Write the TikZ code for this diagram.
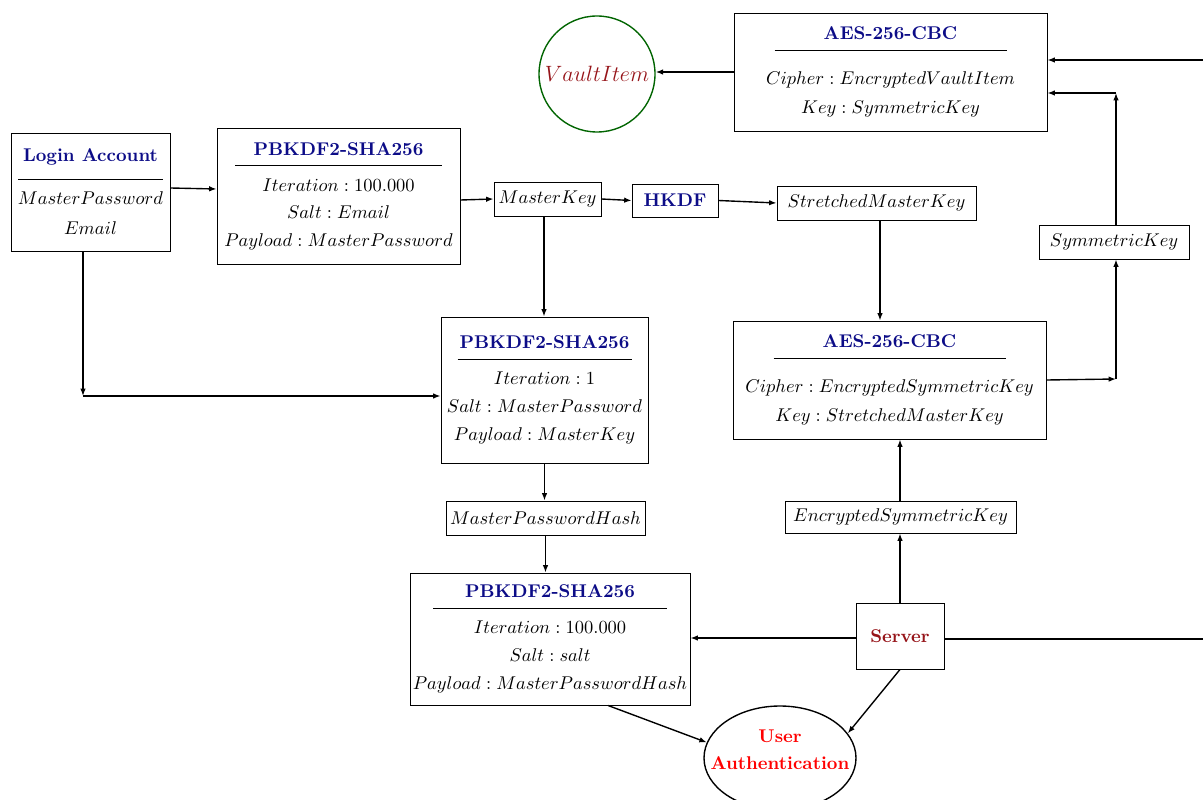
\documentclass[tikz,border=0pt]{standalone}
\usetikzlibrary{arrows.meta,shapes.geometric,calc}

\definecolor{navy}{RGB}{12,12,135}
\definecolor{darkred}{RGB}{150,20,25}
\definecolor{vaultgreen}{RGB}{0,100,0}

% one drawing unit of the chart
\newdimen\px \px=0.5417pt
% heading of a record box: bold title, a rule, then the fields
\newcommand\hdr[4]{\textcolor{navy}{\bfseries #1}\\[#3]\rule{#2}{0.5pt}\\[#4]}
\newcommand\lines[1]{\fontsize{10}{#1}\selectfont}

\tikzset{
  recbox/.style={draw, line width=0.5pt, inner sep=0pt, align=center},
  keybox/.style={draw, line width=0.5pt, inner sep=0pt},
  link/.style={line width=0.75pt, -{Latex[length=4pt,width=3pt]}},
  wire/.style={line width=0.75pt},
}

\begin{document}
\begin{tikzpicture}[x=\px, y=-\px]
\useasboundingbox (0,0) rectangle (1203,800);

% ---- record boxes
\node[recbox, minimum width=159*\px, minimum height=118*\px,
      font=\lines{30\px}] (login) at (90.5,192)
  {\hdr{Login Account}{144\px}{-12\px}{-5\px}$MasterPassword$\\$Email$};

\node[recbox, minimum width=243*\px, minimum height=136*\px,
      font=\lines{27.5\px}] (pb1) at (338.5,196)
  {\hdr{PBKDF2-SHA256}{207\px}{-16.5\px}{-2.5\px}$Iteration : 100.000$\\$Salt : Email$\\$Payload : MasterPassword$};

\node[recbox, minimum width=313*\px, minimum height=118*\px,
      font=\lines{29.5\px}] (aes1) at (890.5,72)
  {\hdr{AES-256-CBC}{232\px}{-17.5\px}{3.5\px}$Cipher : EncryptedVaultItem$\\$Key : SymmetricKey$};

\node[recbox, minimum width=313*\px, minimum height=118*\px,
      font=\lines{29.5\px}] (aes2) at (889.5,380)
  {\hdr{AES-256-CBC}{232\px}{-17.5\px}{3.5\px}$Cipher : EncryptedSymmetricKey$\\$Key : StretchedMasterKey$};

\node[recbox, minimum width=207*\px, minimum height=146*\px,
      font=\lines{28\px}] (pb2) at (544.5,390)
  {\hdr{PBKDF2-SHA256}{174\px}{-17\px}{-3\px}$Iteration : 1$\\$Salt : MasterPassword$\\$Payload : MasterKey$};

\node[recbox, minimum width=280*\px, minimum height=132*\px,
      font=\lines{28\px}] (pb3) at (550,639)
  {\hdr{PBKDF2-SHA256}{234\px}{-17\px}{-3\px}$Iteration : 100.000$\\$Salt : salt$\\$Payload : MasterPasswordHash$};

% ---- key boxes
\node[keybox, minimum width=107*\px, minimum height=34*\px] (mk) at (547.5,199) {$MasterKey$};
\node[keybox, minimum width=86*\px, minimum height=33*\px, text=navy, font=\bfseries] (hkdf) at (675,200.5) {HKDF};
\node[keybox, minimum width=199*\px, minimum height=34*\px] (smk) at (876.5,203) {$StretchedMasterKey$};
\node[keybox, minimum width=150*\px, minimum height=34*\px] (sk) at (1114,242) {$SymmetricKey$};
\node[keybox, minimum width=199*\px, minimum height=34*\px] (mph) at (545.5,518) {$MasterPasswordHash$};
\node[keybox, minimum width=231*\px, minimum height=32*\px] (esk) at (900.5,517) {$EncryptedSymmetricKey$};
\node[keybox, minimum width=88*\px, minimum height=66*\px, text=darkred, font=\bfseries] (server) at (900,636) {Server};

% ---- end points
\node[circle, draw=vaultgreen, line width=0.75pt, inner sep=0pt, minimum size=116*\px,
      text=darkred, font=\large] (vault) at (597,74) {$VaultItem$};
\node[ellipse, draw, line width=0.75pt, minimum width=152*\px, minimum height=104*\px] (ua) at (780,758) {};
\node[text=red, font=\lines{27\px}\bfseries, align=center] (uatext) at (780,750) {User\\Authentication};

% ---- corner and edge points
\coordinate (c1) at (83,396);
\coordinate (c2) at (1116,379);
\coordinate (c3) at (1116,93);
\coordinate (e1) at (1203,60);
\coordinate (e2) at (1203,639);

% ---- connectors
\draw[link] ([yshift=4*\px]login.east) -- ([yshift=7*\px]pb1.west);
\draw[link] ([yshift=-4*\px]pb1.east) -- (mk.west);
\draw[link] (mk.east) -- (hkdf.west);
\draw[link] (hkdf.east) -- (smk.west);
\draw[link] (pb2.north -| mk.south) ++(-3.5,0) coordinate (mkd) (mk.south -| mkd) -- (mkd);
\draw[link] (login.south -| c1) -- (c1);
\draw[link] (c1) -- (c1 -| pb2.west);
\draw[link] ([xshift=3.5*\px]smk.south) -- ([xshift=3.5*\px]smk.south |- aes2.north);
\draw[link] (pb2.south) -- (pb2.south |- mph.north);
\draw[link] (mph.south) -- (mph.south |- pb3.north);
\draw[link] ([yshift=-2*\px]server.west) -- ([yshift=-2*\px]server.west -| pb3.east);
\draw[link] (server.north) -- (server.north |- esk.south);
\draw[link] (esk.north -| server.north) -- (server.north |- aes2.south);
\draw[wire] ([yshift=-3*\px]server.east) -- (e2);
\draw[link] (server.south) -- (ua.20);
\draw[link] ([xshift=58*\px]pb3.south) -- (ua.168);
\draw[link] (aes2.east) -- (c2);
\draw[link] (c2) -- (c2 |- sk.south);
\draw[link] (c2 |- sk.north) -- (c3);
\draw[link] (c3) -- (c3 -| aes1.east);
\draw[link] (e1) -- (e1 -| aes1.east);
\draw[link] (aes1.west) -- (aes1.west -| vault.east);
\end{tikzpicture}
\end{document}
